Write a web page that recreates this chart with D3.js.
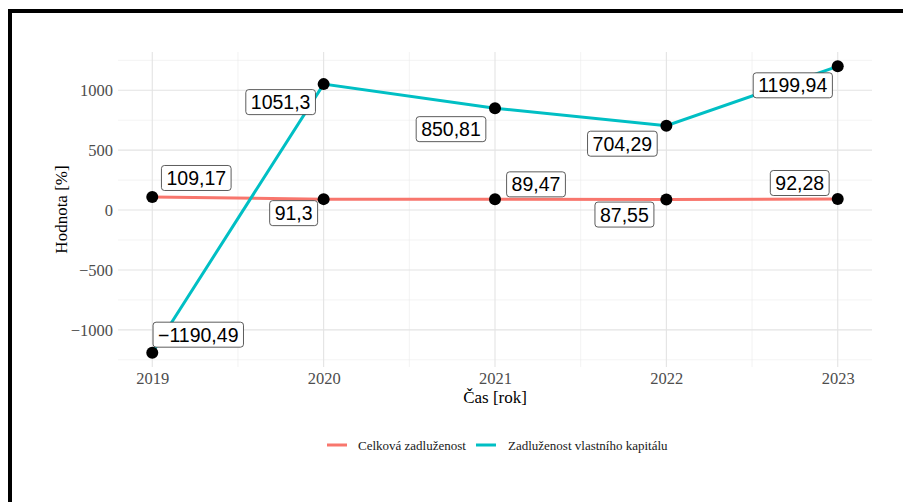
<!DOCTYPE html>
<html><head><meta charset="utf-8">
<script src="https://cdn.jsdelivr.net/npm/d3@7"></script>
<style>body{margin:0;background:#fff}svg{display:block}</style>
</head><body>
<script>
const years = [2019, 2020, 2021, 2022, 2023];
const seriesNames = ["Celková zadluženost", "Zadluženost vlastního kapitálu"];
const celkova = [109.17, 91.3, 89.47, 87.55, 92.28];
const vlastni = [-1190.49, 1051.3, 850.81, 704.29, 1199.94];
const yTicks = [-1000, -500, 0, 500, 1000];
const yMinor = [-1250, -750, -250, 250, 750, 1250];
const colors = ["#F8766D", "#00BFC4"];
// label offsets (px) from point, as placed by repel in the reference
const labelOffsets = [
  [[44,-19],[-30,14],[41,-15],[-42,15],[-38,-16]],
  [[46,-18],[-43,18],[-44,21],[-44,18],[-45,19]]
];

const W = 903, H = 502;
const svg = d3.select("body").append("svg").attr("width", W).attr("height", H);
svg.append("rect").attr("width", W).attr("height", H).attr("fill", "#fff");
svg.append("rect").attr("x", 10).attr("y", 11).attr("width", 1000).attr("height", 1000)
  .attr("fill", "none").attr("stroke", "#000").attr("stroke-width", 4);

const panel = {l: 118, r: 872, t: 52, b: 367};
const allVals = celkova.concat(vlastni);
const ymin = d3.min(allVals), ymax = d3.max(allVals);
const ypad = (ymax - ymin) * 0.05;
const x = d3.scaleLinear().domain([2019 - 0.2, 2023 + 0.2]).range([panel.l, panel.r]);
const y = d3.scaleLinear().domain([ymin - ypad, ymax + ypad]).range([panel.b, panel.t]);

const grid = svg.append("g");
yMinor.forEach(v => grid.append("line").attr("x1", panel.l).attr("x2", panel.r)
  .attr("y1", y(v)).attr("y2", y(v)).attr("stroke", "#ebebeb").attr("stroke-width", 0.6));
years.slice(0, -1).forEach(v => grid.append("line").attr("y1", panel.t).attr("y2", panel.b)
  .attr("x1", x(v + 0.5)).attr("x2", x(v + 0.5)).attr("stroke", "#ebebeb").attr("stroke-width", 0.6));
yTicks.forEach(v => grid.append("line").attr("x1", panel.l).attr("x2", panel.r)
  .attr("y1", y(v)).attr("y2", y(v)).attr("stroke", "#e3e3e3").attr("stroke-width", 1.1));
years.forEach(v => grid.append("line").attr("y1", panel.t).attr("y2", panel.b)
  .attr("x1", x(v)).attr("x2", x(v)).attr("stroke", "#e3e3e3").attr("stroke-width", 1.1));

// axes via d3
const serif = "'Liberation Serif','DejaVu Serif',serif";
const yAxis = svg.append("g").attr("transform", `translate(${panel.l},0)`)
  .call(d3.axisLeft(y).tickValues(yTicks).tickSize(0).tickPadding(5)
    .tickFormat(d => d < 0 ? "\u2212" + Math.abs(d) : d));
yAxis.select(".domain").remove();
yAxis.selectAll("text").attr("font-family", serif).attr("font-size", 16.5).attr("fill", "#4d4d4d");
const xAxis = svg.append("g").attr("transform", `translate(0,${panel.b})`)
  .call(d3.axisBottom(x).tickValues(years).tickSize(0).tickPadding(5).tickFormat(d3.format("d")));
xAxis.select(".domain").remove();
xAxis.selectAll("text").attr("font-family", serif).attr("font-size", 16.5).attr("fill", "#4d4d4d");

svg.append("text").attr("x", (panel.l + panel.r) / 2).attr("y", 403).attr("text-anchor", "middle")
  .attr("font-family", serif).attr("font-size", 17).text("Čas [rok]");
svg.append("text").attr("transform", `translate(67,${(panel.t + panel.b) / 2}) rotate(-90)`)
  .attr("text-anchor", "middle").attr("font-family", serif).attr("font-size", 17).text("Hodnota [%]");

const series = [celkova, vlastni];
const line = d3.line().x((d, i) => x(years[i])).y(d => y(d));
series.forEach((s, k) => {
  svg.append("path").datum(s).attr("d", line).attr("fill", "none")
    .attr("stroke", colors[k]).attr("stroke-width", 3);
});
series.forEach(s => {
  svg.append("g").selectAll("circle").data(s).join("circle")
    .attr("cx", (d, i) => x(years[i])).attr("cy", d => y(d)).attr("r", 6).attr("fill", "#000");
});

const fmt = v => {
  let s = String(v).replace(".", ",");
  return v < 0 ? "\u2212" + s.slice(1) : s;
};
series.forEach((s, k) => {
  s.forEach((v, i) => {
    const cx = x(years[i]) + labelOffsets[k][i][0];
    const cy = y(v) + labelOffsets[k][i][1];
    const g = svg.append("g");
    const t = g.append("text").attr("x", cx).attr("y", cy).attr("text-anchor", "middle")
      .attr("dominant-baseline", "central")
      .attr("font-family", "'Liberation Sans',Arial,sans-serif").attr("font-size", 19.5)
      .attr("fill", "#000").text(fmt(v));
    const bb = t.node().getBBox();
    g.insert("rect", "text").attr("x", bb.x - 5).attr("y", cy - 12.5)
      .attr("width", bb.width + 10).attr("height", 25).attr("rx", 3)
      .attr("fill", "#fff").attr("stroke", "#333").attr("stroke-width", 0.8);
  });
});

// legend
const lg = svg.append("g");
const legendItems = [{x: 327, tx: 358}, {x: 476, tx: 508}];
seriesNames.forEach((n, k) => {
  lg.append("line").attr("x1", legendItems[k].x).attr("x2", legendItems[k].x + 20)
    .attr("y1", 445).attr("y2", 445).attr("stroke", colors[k]).attr("stroke-width", 3);
  lg.append("text").attr("x", legendItems[k].tx).attr("y", 445).attr("dominant-baseline", "central")
    .attr("font-family", serif).attr("font-size", 13).attr("fill", "#1a1a1a").text(n);
});
</script>
</body></html>
